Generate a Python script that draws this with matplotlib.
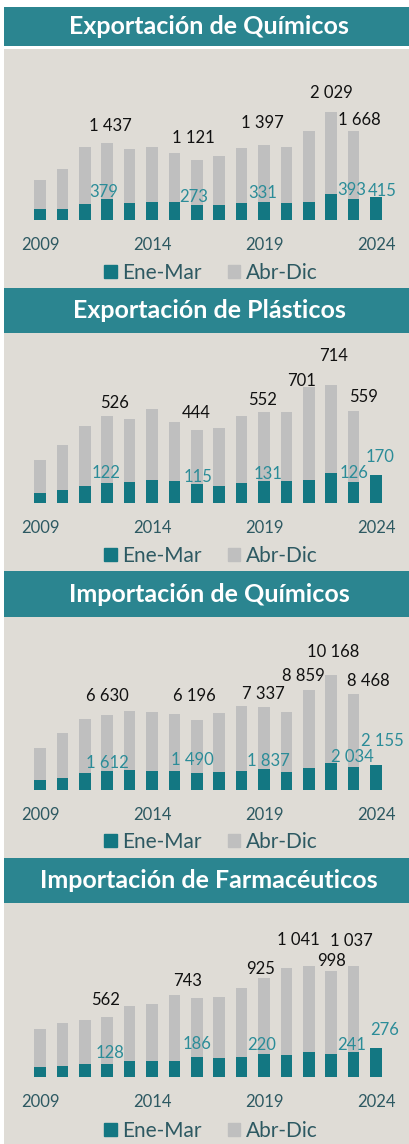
import numpy as np
import matplotlib
matplotlib.use('Agg')
import matplotlib.pyplot as plt
from matplotlib.patches import Rectangle, Patch

plt.rcParams['font.family'] = ['Lato', 'DejaVu Sans']

# datos (millones), Ene-Mar y Abr-Dic por año
years = list(range(2009, 2025))
year_ticks = [2009, 2014, 2019, 2024]

exp_quim_ene = [194, 206, 293, 379, 318, 337, 331, 273, 268, 318, 331, 318, 337, 480, 393, 415]
exp_quim_abr = [549, 743, 1068, 1058, 1012, 1030, 924, 848, 924, 1037, 1066, 1055, 1330, 1549, 1275, 0]

exp_plas_ene = [59, 75, 104, 122, 124, 140, 132, 115, 102, 122, 131, 131, 140, 183, 126, 170]
exp_plas_abr = [199, 276, 363, 404, 388, 428, 359, 329, 351, 404, 421, 423, 561, 531, 433, 0]

imp_quim_ene = [855, 1061, 1503, 1612, 1709, 1621, 1650, 1490, 1591, 1650, 1837, 1591, 1916, 2387, 2034, 2155]
imp_quim_abr = [2829, 3919, 4745, 5018, 5246, 5275, 5069, 4706, 5187, 5747, 5500, 5305, 6943, 7781, 6434, 0]

imp_farm_ene = [93, 103, 125, 128, 153, 153, 156, 186, 178, 186, 220, 212, 237, 220, 241, 276]
imp_farm_abr = [359, 408, 411, 434, 513, 532, 610, 557, 569, 652, 705, 806, 804, 778, 796, 0]

titles = ['Exportación de Químicos', 'Exportación de Plásticos',
          'Importación de Químicos', 'Importación de Farmacéuticos']

# colores
TEAL_HEAD = '#2b8590'
TEAL_BAR = '#137782'
GRAY_BAR = '#bfbfbf'
BG = '#dfdcd6'
TXT_YEAR = '#2d5962'
TXT_ENE = '#2b8c98'

W, H = 410, 1144

# layout en pixeles: header top/bottom, panel top/bottom, base, tope barra max, y años, y leyenda
layouts = [
    (7, 46, 49, 288, 219.5, 111.7, 245, 273),
    (288, 333, 333, 571, 502.7, 385.3, 528, 556),
    (571, 617, 617, 858, 789.7, 674.7, 815, 842),
    (858, 903, 903, 1144, 1077.3, 966.0, 1102, 1131),
]

# etiquetas: (indice, dx px, dy px sobre el tope)
total_labels = [
    [(3, 3, 17), (7, -3, 22), (10, -2, 22), (13, 0, 19), (14, 6, 11)],
    [(3, 7, 13), (7, -1, 17), (10, -1, 12), (12, -7, 6), (13, 2, 29), (14, 10, 14)],
    [(3, 0, 19), (7, -2, 24), (10, -1, 13), (12, -5, 14), (13, 2, 23), (14, 15, 13)],
    [(3, -2, 17), (7, -9, 17), (10, -3.5, 9), (12, -10.5, 26), (13, 0, 10), (14, -2, 25)],
]
ene_labels = [
    [(3, -3, 7), (7, -3, 8), (10, -1, 9), (14, -2, 9), (15, 6, 6)],
    [(3, -1, 10), (7, 1.5, 7), (10, 4, 7), (14, 0, 9), (15, 4, 18)],
    [(3, 0, 8), (7, -4.5, 13), (10, 4, 8), (14, -1, 10), (15, 6, 24)],
    [(3, 3, 11), (7, 0.5, 13), (10, -2.5, 9), (14, -2, 7), (15, 9, 18)],
]


def fmt(v):
    return '{:,}'.format(int(v)).replace(',', ' ')


fig = plt.figure(figsize=(W / 100, H / 100), dpi=100)
fig.patch.set_facecolor('white')

data = [(exp_quim_ene, exp_quim_abr), (exp_plas_ene, exp_plas_abr),
        (imp_quim_ene, imp_quim_abr), (imp_farm_ene, imp_farm_abr)]

step = 22.4  # px entre barras
for k in range(4):
    ene = np.array(data[k][0])
    abr = np.array(data[k][1])
    tot = ene + abr
    h_top, h_bot, g_top, g_bot, yb, ymax, y_year, y_leg = layouts[k]

    # 1.cabecera
    fig.add_artist(Rectangle((4 / W, 1 - h_bot / H), 406 / W, (h_bot - h_top) / H,
                             transform=fig.transFigure, color=TEAL_HEAD, lw=0))
    fig.text(209 / W, 1 - (h_top + h_bot) / 2 / H, titles[k], color='white',
             fontsize=18, fontweight='bold', ha='center', va='center')

    # 2.panel
    ax = fig.add_axes([4 / W, 1 - g_bot / H, 406 / W, (g_bot - g_top) / H])
    ax.set_facecolor(BG)
    for sp in ax.spines.values():
        sp.set_visible(False)
    ax.set_xticks([])
    ax.set_yticks([])

    x = np.arange(len(years))
    ax.bar(x, ene, 0.52, color=TEAL_BAR, zorder=2)
    ax.bar(x, abr, 0.52, bottom=ene, color=GRAY_BAR, zorder=2)

    s = (yb - ymax) / tot.max()
    ax.set_ylim(-(g_bot - yb) / s, (yb - g_top) / s)
    x0 = -36 / step
    ax.set_xlim(x0, x0 + 406 / step)

    # 3.etiquetas
    for i, dx, dy in total_labels[k]:
        ax.annotate(fmt(tot[i]), xy=(i, tot[i]), xytext=(dx * 0.72, dy * 0.72),
                    textcoords='offset points', ha='center', va='center',
                    fontsize=12, color='#111111', zorder=5)
    for i, dx, dy in ene_labels[k]:
        ax.annotate(fmt(ene[i]), xy=(i, ene[i]), xytext=(dx * 0.72, dy * 0.72),
                    textcoords='offset points', ha='center', va='center',
                    fontsize=12, color=TXT_ENE, zorder=5)

    # 4.años
    for yr in year_ticks:
        ax.text(years.index(yr), (yb - y_year) / s, str(yr), ha='center', va='center',
                fontsize=12, color=TXT_YEAR)

    # 5.leyenda
    handles = [Patch(color=TEAL_BAR, label='Ene-Mar'), Patch(color=GRAY_BAR, label='Abr-Dic')]
    leg = ax.legend(handles=handles, ncol=2, loc='center', frameon=False,
                    bbox_to_anchor=((211 - 4) / 406, (g_bot - y_leg) / (g_bot - g_top)),
                    fontsize=15, handlelength=0.58, handleheight=0.58,
                    handletextpad=0.28, columnspacing=1.25, borderaxespad=0)
    for t in leg.get_texts():
        t.set_color(TXT_YEAR)

fig.savefig('out.png', dpi=100, facecolor='white')
